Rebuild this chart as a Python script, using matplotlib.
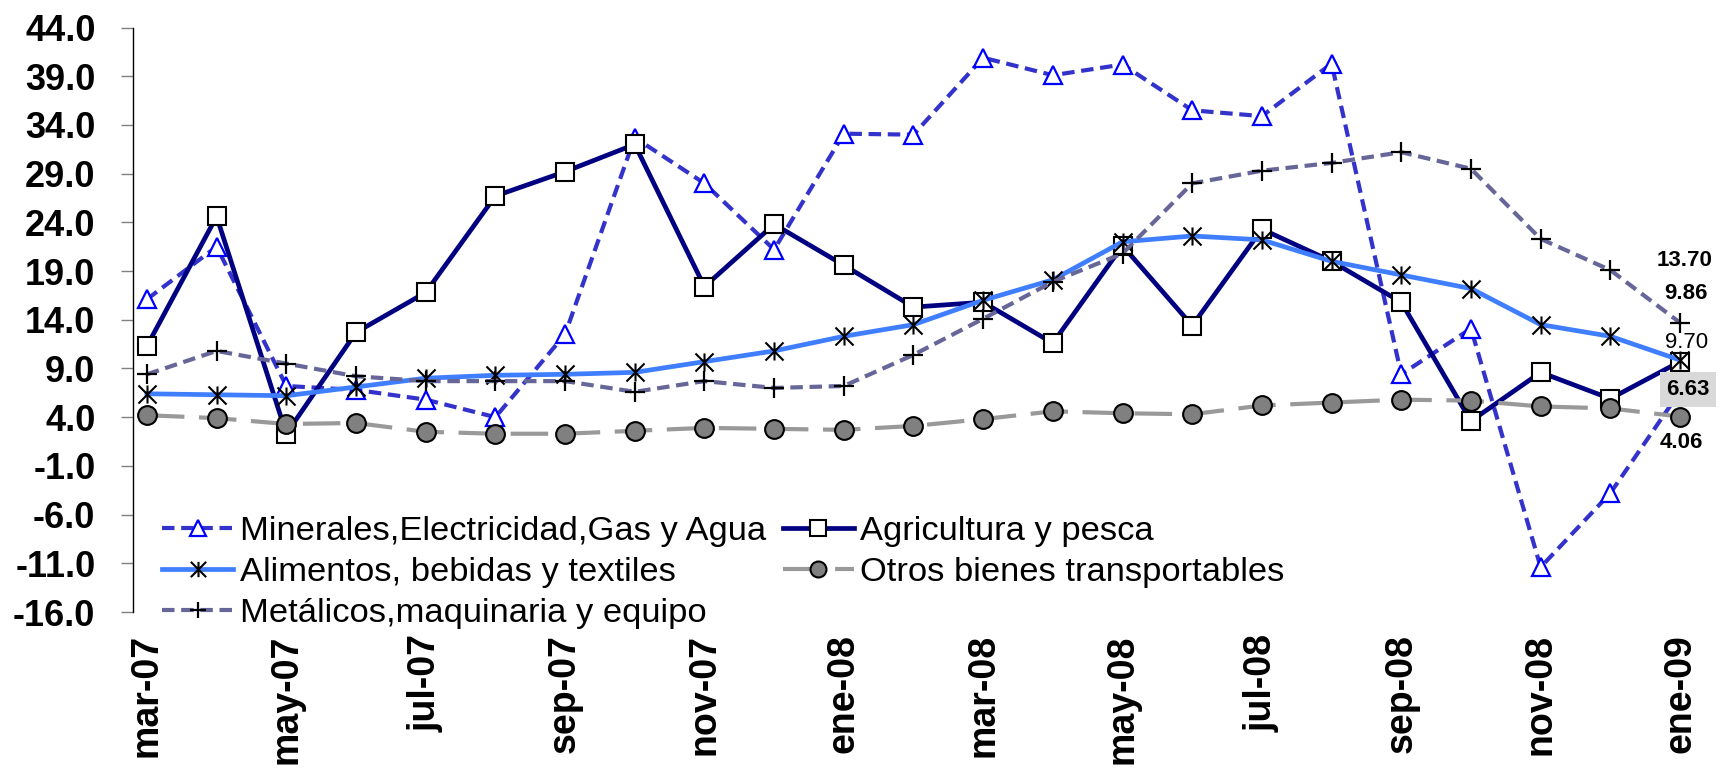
import matplotlib
matplotlib.use("Agg")
import matplotlib.pyplot as plt
from matplotlib.path import Path
import numpy as np

plt.rcParams['font.family'] = ['Liberation Sans', 'DejaVu Sans']

months = ['mar-07', 'abr-07', 'may-07', 'jun-07', 'jul-07', 'ago-07', 'sep-07', 'oct-07',
          'nov-07', 'dic-07', 'ene-08', 'feb-08', 'mar-08', 'abr-08', 'may-08', 'jun-08',
          'jul-08', 'ago-08', 'sep-08', 'oct-08', 'nov-08', 'dic-08', 'ene-09']

minerales = [16.1, 21.5, 7.2, 6.8, 5.8, 4.0, 12.5, 32.7, 28.0, 21.2, 33.1, 33.0, 40.9, 39.1,
             40.2, 35.5, 34.9, 40.3, 8.4, 13.1, -11.4, -3.8, 6.63]
agricultura = [11.3, 24.6, 2.3, 12.7, 16.8, 26.7, 29.2, 32.0, 17.4, 23.8, 19.6, 15.3, 15.8,
               11.6, 21.6, 13.4, 23.3, 20.0, 15.8, 3.6, 8.6, 5.9, 9.70]
alimentos = [6.4, 6.3, 6.2, 7.1, 8.0, 8.3, 8.4, 8.6, 9.7, 10.8, 12.3, 13.5, 16.0, 18.1, 22.0,
             22.6, 22.2, 20.0, 18.6, 17.2, 13.5, 12.3, 9.86]
otros = [4.2, 3.9, 3.3, 3.4, 2.5, 2.3, 2.3, 2.6, 2.9, 2.8, 2.7, 3.1, 3.8, 4.6, 4.4, 4.3, 5.2,
         5.5, 5.8, 5.7, 5.1, 4.9, 4.06]
metalicos = [8.4, 10.8, 9.5, 8.2, 7.7, 7.7, 7.7, 6.6, 7.7, 7.0, 7.2, 10.4, 14.1, 17.9, 20.8,
             28.0, 29.3, 30.1, 31.2, 29.5, 22.3, 19.1, 13.70]

labels = ['Minerales,Electricidad,Gas y Agua', 'Agricultura y pesca',
          'Alimentos, bebidas y textiles', 'Otros bienes transportables',
          'Metálicos,maquinaria y equipo']

x = np.arange(len(months))

fig = plt.figure(figsize=(17.22, 7.70), dpi=100)
ax = fig.add_axes([133 / 1722, 1 - 612 / 770, (1705 - 133) / 1722, (612 - 27.5) / 770])

star = Path([(-1, -1), (1, 1), (-1, 1), (1, -1), (0, -1), (0, 1)],
            [Path.MOVETO, Path.LINETO, Path.MOVETO, Path.LINETO, Path.MOVETO, Path.LINETO])

l_min, = ax.plot(x, minerales, color='#3333CC', lw=3.0, ls=(0, (3, 1.6)),
                 marker='^', ms=13.5, mfc='white', mec='#0000FF', mew=1.6, label=labels[0], zorder=3)
l_agr, = ax.plot(x, agricultura, color='#000080', lw=3.4, ls='-',
                 marker='s', ms=13.5, mfc='white', mec='black', mew=1.5, label=labels[1], zorder=4)
l_ali, = ax.plot(x, alimentos, color='#3F7FFF', lw=3.4, ls='-',
                 marker=star, ms=13, mfc='none', mec='black', mew=1.5, label=labels[2], zorder=5)
l_otr, = ax.plot(x, otros, color='#999999', lw=3.0, ls=(0, (9, 3.5)),
                 marker='o', ms=13.5, mfc='#808080', mec='black', mew=1.5, label=labels[3], zorder=6)
l_met, = ax.plot(x, metalicos, color='#666699', lw=3.0, ls=(0, (3, 1.6)),
                 marker='+', ms=14, mec='black', mew=1.6, label=labels[4], zorder=7)

ax.set_xlim(-0.2, 22 + (1705 - 1680) / 69.73)
ax.set_ylim(-16, 44)
yt = np.arange(-16, 45, 5)
ax.set_yticks(yt)
ax.set_yticklabels(['%.1f' % v for v in yt], fontsize=26, fontweight='bold')
ax.set_xticks(x[::2])
ax.set_xticklabels(months[::2], rotation=90, fontsize=27, fontweight='bold')

for s in ['top', 'right', 'bottom']:
    ax.spines[s].set_visible(False)
ax.spines['left'].set_color('black')
ax.spines['left'].set_linewidth(1.0)
ax.tick_params(axis='y', direction='out', length=9, width=1, color='#808080', pad=18)
ax.tick_params(axis='x', length=0, pad=16)

# end-point value labels
ann = [
    (metalicos[-1], '%.2f' % metalicos[-1], 'bold', (3.6, 44.7), None),
    (alimentos[-1], '%.2f' % alimentos[-1], 'bold', (4.3, 48.0), None),
    (agricultura[-1], '%.2f' % agricultura[-1], 'normal', (5.0, 13.8), None),
    (minerales[-1], '%.2f' % minerales[-1], 'bold', (5.8, 1.5), '#D9D9D9'),
    (otros[-1], '%.2f' % otros[-1], 'bold', (0.7, -18.7), None),
]
for yv, txt, fw, off, bg in ann:
    kw = {}
    if bg:
        kw['bbox'] = dict(boxstyle='square,pad=0.3', fc=bg, ec='none')
    ax.annotate(txt, (x[-1], yv), xytext=off, textcoords='offset points',
                ha='center', va='center', fontsize=16, fontweight=fw, color='black',
                zorder=10, annotation_clip=False, **kw)

handles = [l_min, l_ali, l_met, l_agr, l_otr]
leg = fig.legend(handles, [h.get_label() for h in handles], ncol=2, loc='upper left',
                 bbox_to_anchor=(162 / 1722, 1 - 516 / 770), frameon=False, fontsize=24.8,
                 handlelength=2.07, handletextpad=0.19, columnspacing=0.48, labelspacing=0.29,
                 borderpad=0, borderaxespad=0, markerscale=0.85)

fig.savefig('out.png', dpi=100)
